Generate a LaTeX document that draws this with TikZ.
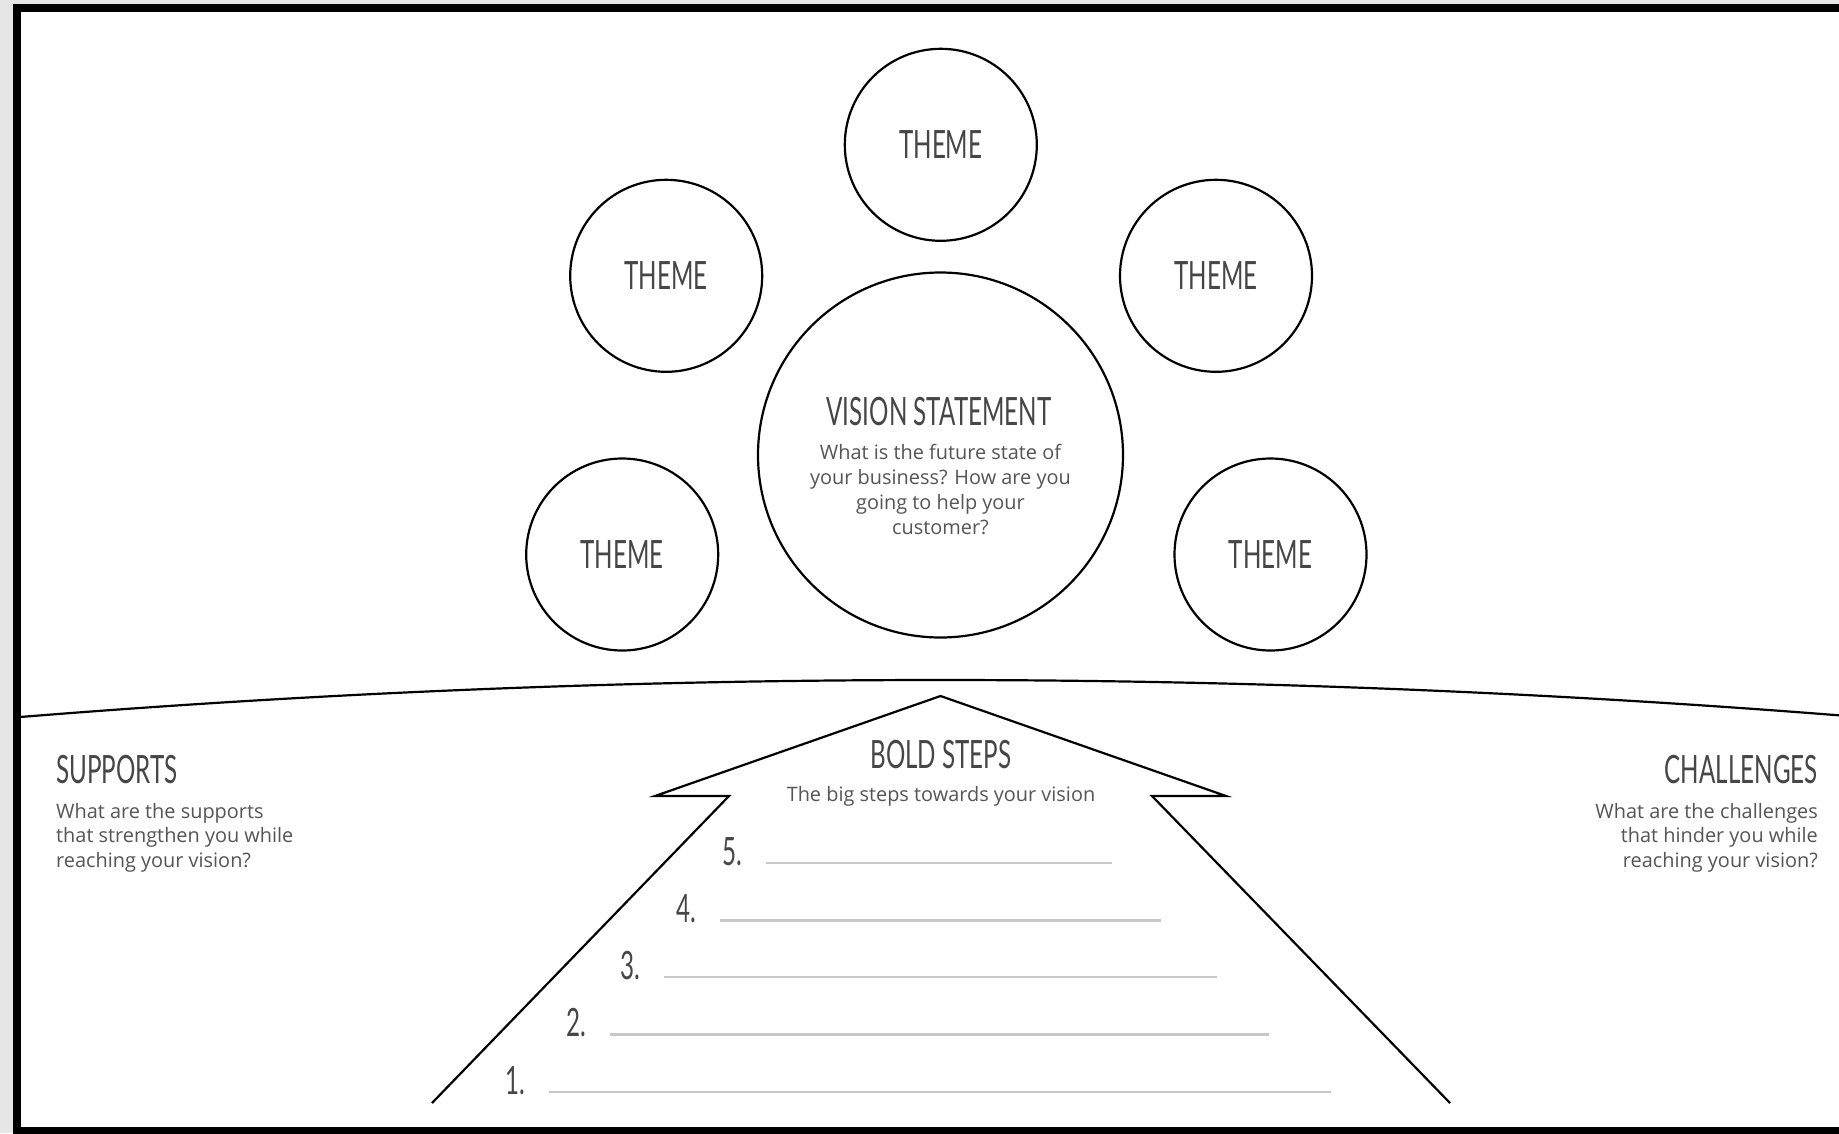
\documentclass[tikz,border=0pt]{standalone}
\usepackage{fontspec}
\setmainfont{Open Sans}
\newfontfamily\headfont{Lato}[FakeStretch=0.62]
\usetikzlibrary{positioning}
\definecolor{pagegray}{RGB}{230,230,230}
\definecolor{inkgray}{RGB}{70,70,70}
\definecolor{textgray}{RGB}{85,85,85}
\definecolor{rulegray}{RGB}{200,200,200}

\begin{document}
\begin{tikzpicture}[
  x=1pt, y=-1pt,
  outline/.style={draw=black, line width=2.2pt, line join=miter},
  themebubble/.style={circle, draw=black, line width=2.2pt, minimum size=192pt,
               inner sep=0pt, text=inkgray, font=\headfont\fontsize{39}{44}\selectfont},
  visionbubble/.style={circle, draw=black, line width=2.2pt, minimum size=365pt, inner sep=0pt},
  headline/.style={inner sep=0pt, text=inkgray, font=\headfont\fontsize{39}{44}\selectfont},
  question/.style={inner sep=0pt, text=textgray, font=\fontsize{19.9}{24.7}\selectfont},
  stepnum/.style={inner sep=0pt, text=inkgray, font=\headfont\fontsize{39}{44}\selectfont},
  stepline/.style={draw=rulegray, line width=2.6pt}
]
  \useasboundingbox (0,0) rectangle (1839,1133);
  \clip (0,0) rectangle (1839,1133);

  % sheet and its border
  \fill[pagegray] (0,0) rectangle (1839,1133);
  \draw[line width=7.5pt, fill=white] (17,8) rectangle (1860,1131);

  % vision and the themes around it
  \node[visionbubble] (vision) at (940.5,455) {};
  \node[themebubble] (themeT)  at (940.8,144.8) {THEME};
  \node[themebubble] (themeUL) at (666.2,275.8) {THEME};
  \node[themebubble] (themeUR) at (1216,275.8) {THEME};
  \node[themebubble] (themeLL) at (622.2,554.5) {THEME};
  \node[themebubble] (themeLR) at (1270.5,554.5) {THEME};

  \node[headline, anchor=base] (visiontitle) at (939,425) {VISION STATEMENT};
  % multi-line nodes sit on the baseline of their last line
  \node[question, align=center, anchor=base] (visiontext) at (940.5,534)
    {What is the future state of\\your business? How are you\\going to help your\\customer?};

  % horizon
  \coordinate (hzL) at (20,717);
  \coordinate (hzM) at (940,680);
  \coordinate (hzR) at (1860,717);
  \draw[outline] (hzL) .. controls (326.7,692.3) and (633.3,680) .. (hzM)
                       .. controls (1246.7,680) and (1553.3,692.3) .. (hzR);

  % supports and challenges
  \node[headline, anchor=base west] (supports) at (56,783) {SUPPORTS};
  \node[question, align=left, anchor=base west] (supportstext) at (56,867.5)
    {What are the supports\\that strengthen you while\\reaching your vision?};
  \node[headline, anchor=base east] (challenges) at (1818,783) {CHALLENGES};
  \node[question, align=right, anchor=base east] (challengestext) at (1818,867.5)
    {What are the challenges\\that hinder you while\\reaching your vision?};

  % bold steps arrow
  \coordinate (footL)  at (432,1103);
  \coordinate (notchL) at (729,796);
  \coordinate (tipL)   at (655,796);
  \coordinate (apex)   at (940.5,696);
  \coordinate (tipR)   at (1226,796);
  \coordinate (notchR) at (1152,796);
  \coordinate (footR)  at (1450,1103);
  \draw[outline] (footL) -- (notchL) -- (tipL) -- (apex) -- (tipR) -- (notchR) -- (footR);

  \node[headline, anchor=base] (boldsteps) at (941,768) {BOLD STEPS};
  \node[question, anchor=base] (boldtext) at (941,801.5) {The big steps towards your vision};

  % numbered steps
  \foreach \n/\y/\l/\r in {5/863/766/1112, 4/920.5/720/1161, 3/977/664/1217,
                           2/1034.4/610/1269, 1/1092/549/1331} {
    \coordinate (step\n a) at (\l,\y);
    \coordinate (step\n b) at (\r,\y);
    \draw[stepline] (step\n a) -- (step\n b);
    \node[stepnum, anchor=base east] (num\n) at ([xshift=-24pt, yshift=-2pt]step\n a) {\n.};
  }
\end{tikzpicture}
\end{document}
